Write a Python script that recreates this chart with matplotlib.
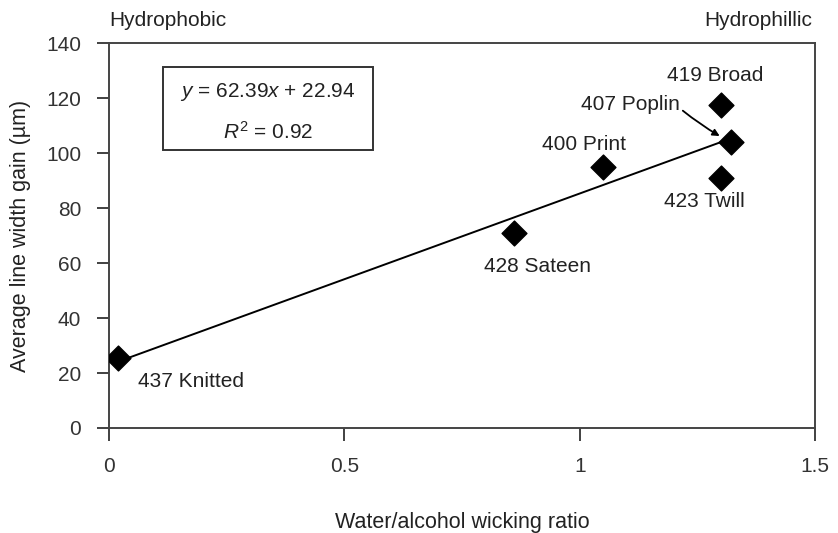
import matplotlib.pyplot as plt
from matplotlib.patches import Rectangle

plt.rcParams['font.family'] = ['Liberation Sans', 'DejaVu Sans']
plt.rcParams['mathtext.fontset'] = 'custom'
plt.rcParams['mathtext.rm'] = 'Liberation Sans'
plt.rcParams['mathtext.it'] = 'Liberation Sans:italic'

# wicking ratio vs line width gain for each fabric
fabrics = ['437 Knitted', '428 Sateen', '400 Print', '419 Broad', '407 Poplin', '423 Twill']
ratio = [0.02, 0.86, 1.05, 1.30, 1.32, 1.30]
gain = [25.5, 71, 95, 117.5, 104, 91]

# label offsets in points (dx, dy)
offsets = [(52, -17), (17, -24), (-14, 16), (-4, 21), (-72, 27), (-12, -17)]

slope, intercept = 62.39, 22.94
r2 = 0.92

fs = 15
txt_color = '#222222'

fig = plt.figure(figsize=(8.38, 5.33), dpi=100)
ax = fig.add_axes([0.130, 0.197, 0.843, 0.722])

fit_x = [min(ratio), max(ratio)]
fit_y = [slope * v + intercept for v in fit_x]
ax.plot(fit_x, fit_y, color='black', lw=1.4, zorder=2)
ax.scatter(ratio, gain, marker='D', s=160, color='black', zorder=3)

for name, x, y, off in zip(fabrics, ratio, gain, offsets):
    if name == '407 Poplin':
        ax.annotate(name, (x, y), xytext=off, textcoords='offset points',
                    ha='center', va='center', fontsize=fs, color=txt_color,
                    arrowprops=dict(arrowstyle='-|>', color='black', lw=1.3,
                                    shrinkA=0, shrinkB=9,
                                    connectionstyle='arc3,rad=0.05',
                                    mutation_scale=10,
                                    relpos=(1.0, 0.3)))
    else:
        ax.annotate(name, (x, y), xytext=off, textcoords='offset points',
                    ha='center', va='center', fontsize=fs, color=txt_color)

ax.set_xlim(0, 1.5)
ax.set_ylim(0, 140)
ax.set_xticks([0, 0.5, 1, 1.5])
ax.set_xticklabels(['0', '0.5', '1', '1.5'])
ax.set_yticks(range(0, 141, 20))
ax.tick_params(direction='out', length=9, width=1.3, colors='#333333',
               labelsize=fs)
ax.tick_params(axis='x', pad=12)
ax.tick_params(axis='y', pad=11)
for s in ax.spines.values():
    s.set_color('#444444')
    s.set_linewidth(1.4)

ax.set_xlabel('Water/alcohol wicking ratio', fontsize=15.5, color=txt_color, labelpad=26)
ax.set_ylabel('Average line width gain (µm)', fontsize=15.5, color=txt_color, labelpad=11)

# regression box
ax.add_patch(Rectangle((0.076, 0.722), 0.298, 0.216, transform=ax.transAxes,
                       fill=False, edgecolor='#333333', lw=1.4))
ax.text(0.225, 0.873, r'$\it{y}$ = 62.39$\it{x}$ + 22.94', transform=ax.transAxes,
        ha='center', va='center', fontsize=fs, color=txt_color)
ax.text(0.225, 0.769, r'$\it{R}^2$ = 0.92', transform=ax.transAxes,
        ha='center', va='center', fontsize=fs, color=txt_color)

ax.text(0.0, 1.058, 'Hydrophobic', transform=ax.transAxes, ha='left', va='center',
        fontsize=fs, color=txt_color)
ax.text(0.995, 1.058, 'Hydrophillic', transform=ax.transAxes, ha='right', va='center',
        fontsize=fs, color=txt_color)

fig.savefig('out.png', dpi=100)
